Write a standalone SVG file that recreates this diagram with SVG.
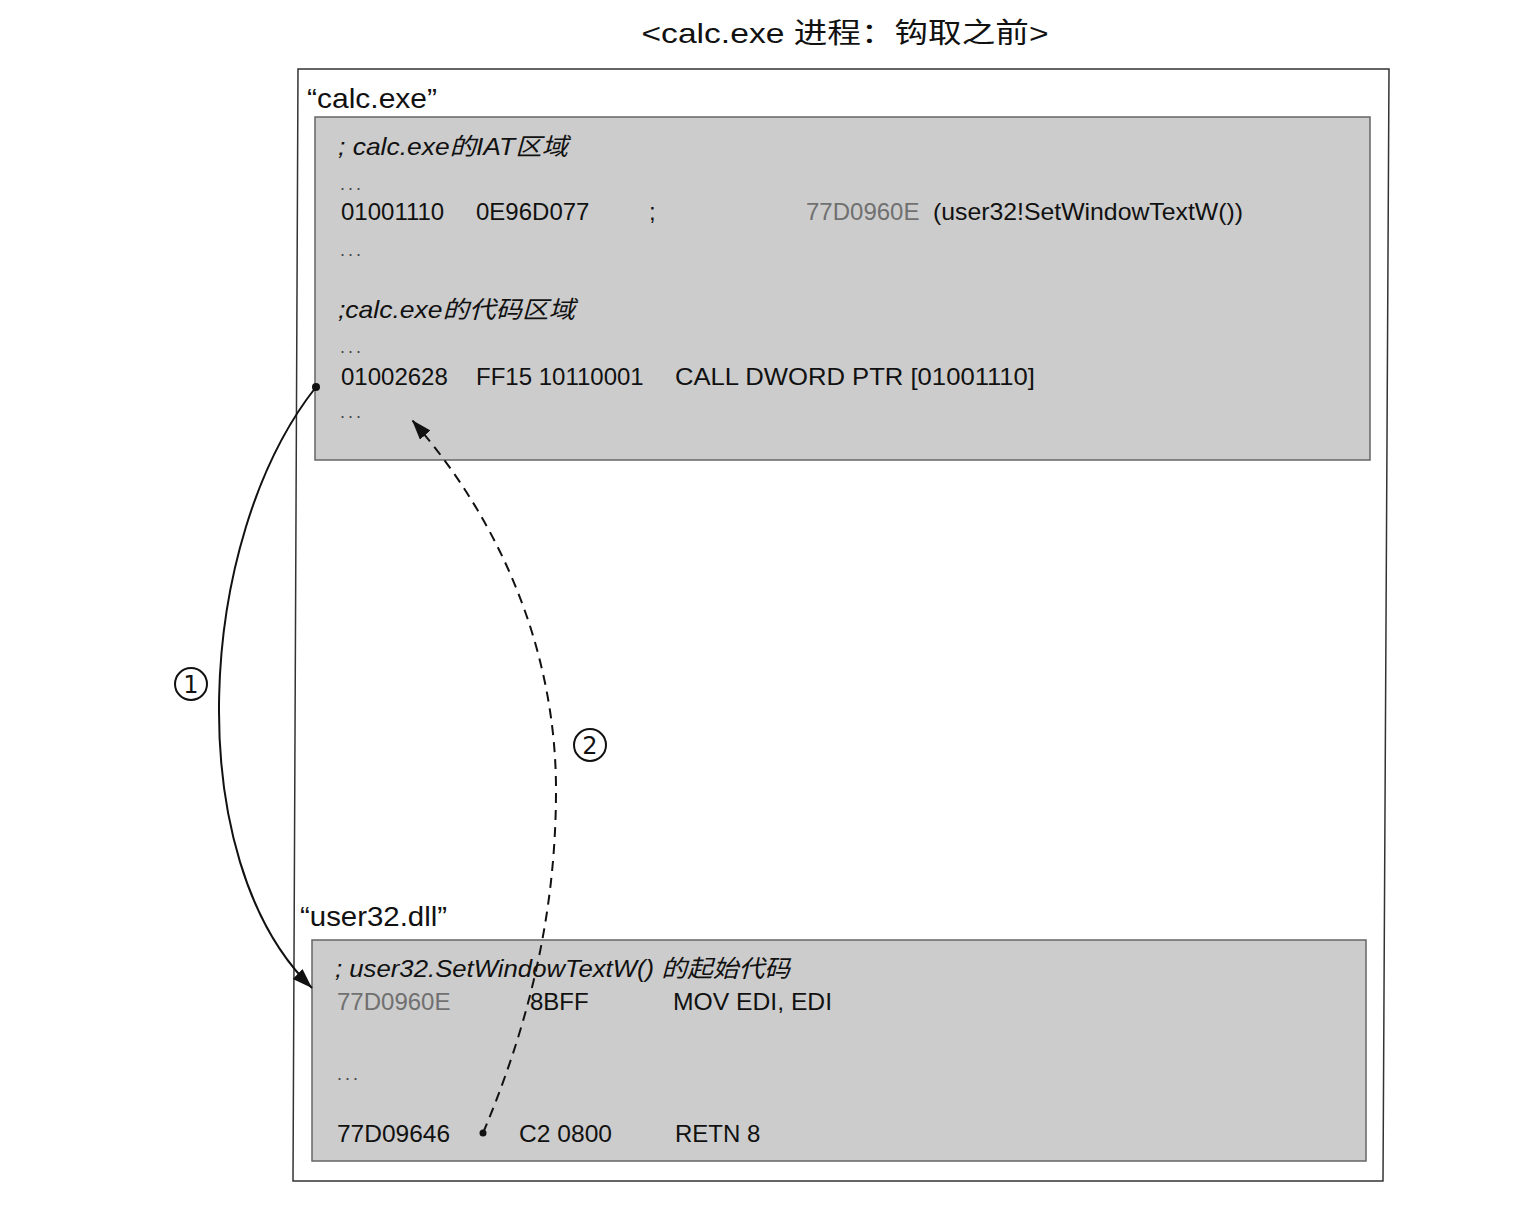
<svg xmlns="http://www.w3.org/2000/svg" width="1527" height="1214" viewBox="0 0 1527 1214">
  <style>
    .t { font-family: "Liberation Sans", "Noto Sans CJK SC", sans-serif; fill: #111; }
    .code { font-size: 24px; }
    .gray { fill: #707070; }
    .it { font-style: italic; }
    .box { fill: #cccccc; stroke: #666; stroke-width: 1.5; }
    .frame { fill: none; stroke: #333; stroke-width: 1.5; }
    .dots { font-size: 18px; fill: #444; letter-spacing: 3px; }
    .conn { fill: none; stroke: #111; stroke-width: 2; }
    .num { font-family: "DejaVu Sans", sans-serif; font-size: 24px; fill: #111; }
  </style>
  <defs>
    <marker id="arrow" markerUnits="userSpaceOnUse" markerWidth="22" markerHeight="16" refX="20" refY="7" orient="auto">
      <path d="M0,0 L20,7 L0,14 Z" fill="#111"/>
    </marker>
  </defs>
  <rect width="1527" height="1214" fill="#ffffff"/>

  <g id="title">
    <text class="t" x="845" y="43" font-size="28" text-anchor="middle" textLength="407" lengthAdjust="spacingAndGlyphs">&lt;calc.exe 进程：钩取之前&gt;</text>
  </g>

  <g id="process-frame">
    <path class="frame" d="M298,69 L1389,69 L1383,1181 L293,1181 Z"/>
    <text class="t" x="307" y="108" font-size="28" textLength="130" lengthAdjust="spacingAndGlyphs">“calc.exe”</text>
  </g>

  <g id="calc-box">
    <rect class="box" x="315" y="117" width="1055" height="343"/>
    <text class="t code it" x="338" y="155" textLength="230" lengthAdjust="spacingAndGlyphs">; calc.exe的IAT区域</text>
    <text class="t dots" x="340" y="190">...</text>
    <text class="t code" x="341" y="220">01001110</text>
    <text class="t code" x="476" y="220">0E96D077</text>
    <text class="t code" x="649" y="220">;</text>
    <text class="t code gray" x="806" y="220">77D0960E</text>
    <text class="t code" x="933" y="220" textLength="310" lengthAdjust="spacingAndGlyphs">(user32!SetWindowTextW())</text>
    <text class="t dots" x="340" y="256">...</text>
    <text class="t code it" x="338" y="318" textLength="237" lengthAdjust="spacingAndGlyphs">;calc.exe的代码区域</text>
    <text class="t dots" x="340" y="353">...</text>
    <text class="t code" x="341" y="385">01002628</text>
    <text class="t code" x="476" y="385">FF15 10110001</text>
    <text class="t code" x="675" y="385" textLength="360" lengthAdjust="spacingAndGlyphs">CALL  DWORD PTR [01001110]</text>
    <text class="t dots" x="340" y="418">...</text>
  </g>

  <g id="user32-box">
    <text class="t" x="300" y="926" font-size="28" textLength="147" lengthAdjust="spacingAndGlyphs">“user32.dll”</text>
    <rect class="box" x="312" y="940" width="1054" height="221"/>
    <text class="t code it" x="335" y="977" textLength="455" lengthAdjust="spacingAndGlyphs">; user32.SetWindowTextW() 的起始代码</text>
    <text class="t code gray" x="337" y="1010">77D0960E</text>
    <text class="t code" x="530" y="1010">8BFF</text>
    <text class="t code" x="673" y="1010" textLength="159" lengthAdjust="spacingAndGlyphs">MOV EDI, EDI</text>
    <text class="t dots" x="337" y="1080">...</text>
    <text class="t code" x="337" y="1142" textLength="113" lengthAdjust="spacingAndGlyphs">77D09646</text>
    <text class="t code" x="519" y="1142" textLength="93" lengthAdjust="spacingAndGlyphs">C2 0800</text>
    <text class="t code" x="675" y="1142">RETN 8</text>
  </g>

  <g id="connectors">
    <circle cx="316" cy="387" r="4" fill="#111"/>
    <path class="conn" d="M316,387 C195,540 180,860 312,988" marker-end="url(#arrow)"/>
    <circle cx="483" cy="1133" r="3.5" fill="#111"/>
    <path class="conn" d="M483,1133 C535,1010 556,900 556,790 C556,650 500,520 412,420" stroke-dasharray="10,7" marker-end="url(#arrow)"/>
  </g>

  <g id="label-1">
    <circle cx="191" cy="684" r="16" fill="none" stroke="#111" stroke-width="2"/>
    <text class="num" x="191" y="693" text-anchor="middle">1</text>
  </g>
  <g id="label-2">
    <circle cx="590" cy="745" r="16" fill="none" stroke="#111" stroke-width="2"/>
    <text class="num" x="590" y="754" text-anchor="middle">2</text>
  </g>
</svg>
